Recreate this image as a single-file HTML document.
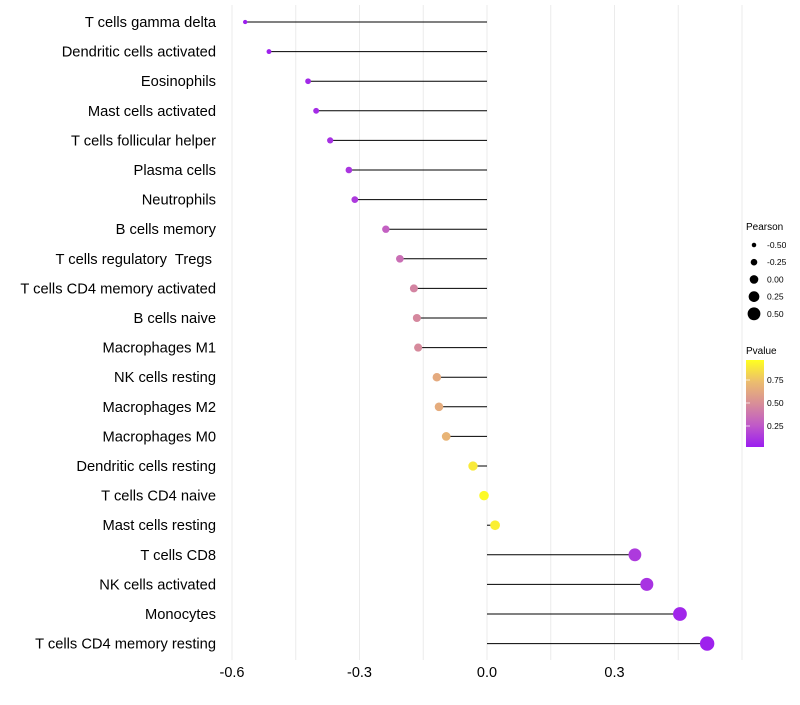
<!DOCTYPE html>
<html><head><meta charset="utf-8"><style>
body{margin:0;background:#fff;font-family:"Liberation Sans",sans-serif}
svg text{font-family:"Liberation Sans",sans-serif;white-space:pre}
</style></head><body>
<svg id="chart" width="800" height="700" xmlns="http://www.w3.org/2000/svg">
<defs><linearGradient id="pg" x1="0" y1="1" x2="0" y2="0">
<stop offset="0" stop-color="#9b1df0"/><stop offset="0.25" stop-color="#c05ac8"/><stop offset="0.5" stop-color="#d88e98"/><stop offset="0.75" stop-color="#ecbd6e"/><stop offset="1" stop-color="#ffff20"/></linearGradient></defs>
<g id="grid"></g>
<g id="marks"></g>
<g id="ylabels"></g>
<g id="xlabels"></g>
<g id="sizeLegend">
<text x="746" y="230" font-size="10">Pearson</text>
</g>
<g id="colorLegend">
<text x="746" y="354" font-size="10">Pvalue</text>
<rect x="746" y="360" width="18" height="87" fill="url(#pg)"/>
</g>
</svg>
<script>
const categories=["T cells gamma delta","Dendritic cells activated","Eosinophils","Mast cells activated","T cells follicular helper","Plasma cells","Neutrophils","B cells memory","T cells regulatory  Tregs ","T cells CD4 memory activated","B cells naive","Macrophages M1","NK cells resting","Macrophages M2","Macrophages M0","Dendritic cells resting","T cells CD4 naive","Mast cells resting","T cells CD8","NK cells activated","Monocytes","T cells CD4 memory resting"];
const pearson=[-0.569,-0.513,-0.421,-0.402,-0.369,-0.325,-0.311,-0.238,-0.205,-0.172,-0.165,-0.162,-0.118,-0.113,-0.096,-0.033,-0.007,0.019,0.348,0.376,0.454,0.518];
const pvalue=[0.01,0.02,0.05,0.06,0.08,0.1,0.12,0.28,0.35,0.45,0.47,0.48,0.65,0.66,0.7,0.92,0.98,0.94,0.12,0.09,0.04,0.02];
const xTicks=[-0.6,-0.3,0.0,0.3];
const xTickLabels=["-0.6","-0.3","0.0","0.3"];
const sizeLegendValues=[-0.5,-0.25,0,0.25,0.5];
const sizeLegendLabels=["-0.50","-0.25","0.00","0.25","0.50"];
const colorTicks=[0.25,0.5,0.75];
const colorTickLabels=["0.25","0.50","0.75"];

const NS="http://www.w3.org/2000/svg";
const x=v=>487+v*425;
const y=i=>22+i*29.6;
const r=v=>4.8+4.6*v;
const stops=[[0,[155,29,240]],[0.25,[192,90,200]],[0.5,[216,142,152]],[0.75,[236,189,110]],[1,[255,255,32]]];
function col(p){for(let k=0;k<stops.length-1;k++){const a=stops[k],b=stops[k+1];if(p<=b[0]){const t=(p-a[0])/(b[0]-a[0]);return "rgb("+a[1].map((c,j)=>Math.round(c+(b[1][j]-c)*t)).join(",")+")";}}return "rgb(255,255,32)";}
function mk(tag,attrs,parent){const e=document.createElementNS(NS,tag);for(const k in attrs)e.setAttribute(k,attrs[k]);parent.appendChild(e);return e;}
const grid=document.getElementById('grid'),marks=document.getElementById('marks'),yl=document.getElementById('ylabels'),xl=document.getElementById('xlabels');
for(let v=-0.6;v<=0.66;v+=0.15){const g=mk('line',{x1:x(v),x2:x(v),y1:5,y2:660,stroke:'#ebebeb','stroke-width':1},grid);

}
xTicks.forEach((v,i)=>{const t=mk('text',{x:x(v),y:677,'font-size':14.5,'text-anchor':'middle',fill:'#000'},xl);t.textContent=xTickLabels[i];

});
categories.forEach((c,i)=>{
const t=mk('text',{x:216,y:y(i)+5,'font-size':14.7,'text-anchor':'end',fill:'#000'},yl);t.textContent=c;


const l=mk('line',{x1:x(0),x2:x(pearson[i]),y1:y(i),y2:y(i),stroke:'#000','stroke-width':1},marks);


const d=mk('circle',{cx:x(pearson[i]),cy:y(i),r:r(pearson[i]),fill:col(pvalue[i])},marks);


});
const sl=document.getElementById('sizeLegend');
sizeLegendValues.forEach((v,i)=>{const yy=245+i*17.2;
const c=mk('circle',{cx:754,cy:yy,r:r(v)*0.9,fill:'#000'},sl);


const t=mk('text',{x:767,y:yy+3,'font-size':8.5},sl);t.textContent=sizeLegendLabels[i];

});
const cl=document.getElementById('colorLegend');
colorTicks.forEach((v,i)=>{const yy=449-v*92;
const tk=mk('line',{x1:746,x2:750,y1:yy,y2:yy,stroke:'#fff','stroke-width':0.7},cl);


const t=mk('text',{x:767,y:yy+3,'font-size':8.5},cl);t.textContent=colorTickLabels[i];

});
</script>
</body></html>
